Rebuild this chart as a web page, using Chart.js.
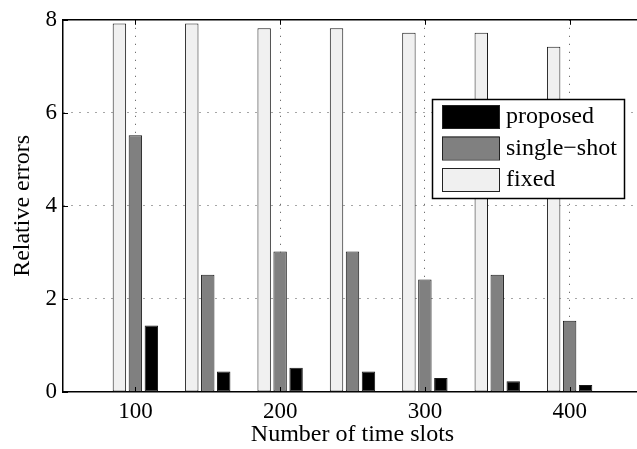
<!DOCTYPE html>
<html>
<head>
<meta charset="utf-8">
<script src="https://cdn.jsdelivr.net/npm/chart.js@4"></script>
<style>
  html, body { margin: 0; padding: 0; background: #fff; overflow: hidden; }
  #wrap { width: 637px; height: 449px; overflow: hidden; }
</style>
</head>
<body>
<div id="wrap"><canvas id="chart" width="645" height="449"></canvas></div>
<script>
// values
const slots = [100, 150, 200, 250, 300, 350, 400];
const fixedErr = [7.92, 7.92, 7.82, 7.82, 7.72, 7.72, 7.42];
const singleShotErr = [5.52, 2.52, 3.02, 3.02, 2.42, 2.52, 1.53];
const proposedErr = [1.43, 0.44, 0.52, 0.44, 0.3, 0.23, 0.15];
const xTicks = [100, 200, 300, 400];
const yTicks = [0, 2, 4, 6, 8];

const FONT = "'Liberation Serif', 'Times New Roman', serif";

function points(values) {
  return slots.map((s, i) => ({ x: s, y: values[i] }));
}

// legend entries, in the order shown in the box
const legendItems = [
  { label: "proposed", color: "#000000" },
  { label: "single\u2212shot", color: "#808080" },
  { label: "fixed", color: "#f0f0f0" },
];

// axis titles, top frame line, inward tick marks and the legend box
const decorations = {
  id: "decorations",
  afterDraw(chart) {
    const ctx = chart.ctx;
    const area = chart.chartArea;
    const xs = chart.scales.x;
    const ys = chart.scales.y;
    ctx.save();

    ctx.strokeStyle = "#000";
    ctx.lineWidth = 1.5;
    ctx.beginPath();
    ctx.moveTo(area.left, area.top);
    ctx.lineTo(area.right, area.top);
    ctx.stroke();

    ctx.lineWidth = 1;
    ctx.beginPath();
    xTicks.forEach((v) => {
      const px = Math.round(xs.getPixelForValue(v)) + 0.5;
      ctx.moveTo(px, area.bottom);
      ctx.lineTo(px, area.bottom - 5);
      ctx.moveTo(px, area.top);
      ctx.lineTo(px, area.top + 5);
    });
    yTicks.forEach((v) => {
      const py = Math.round(ys.getPixelForValue(v)) + 0.5;
      ctx.moveTo(area.left, py);
      ctx.lineTo(area.left + 5, py);
    });
    ctx.stroke();

    ctx.fillStyle = "#000";
    ctx.font = "24px " + FONT;
    ctx.textAlign = "center";
    ctx.textBaseline = "middle";
    ctx.fillText("Number of time slots", (area.left + area.right) / 2, 435);

    ctx.save();
    ctx.translate(23, (area.top + area.bottom) / 2);
    ctx.rotate(-Math.PI / 2);
    ctx.fillText("Relative errors", 0, 0);
    ctx.restore();

    // legend
    const lx = 432, ly = 99, lw = 192, lh = 99;
    ctx.fillStyle = "#fff";
    ctx.fillRect(lx, ly, lw, lh);
    ctx.strokeStyle = "#000";
    ctx.lineWidth = 1.5;
    ctx.strokeRect(lx + 0.5, ly + 0.5, lw, lh);
    ctx.textAlign = "left";
    legendItems.forEach((item, i) => {
      const sy = 105 + i * 31.5;
      ctx.fillStyle = item.color;
      ctx.fillRect(442, sy, 57, 23);
      ctx.strokeStyle = "#222";
      ctx.lineWidth = 1;
      ctx.strokeRect(442.5, sy + 0.5, 57, 23);
      ctx.fillStyle = "#000";
      ctx.fillText(item.label, 506, sy + 12);
    });

    ctx.restore();
  },
};

const barStyle = {
  borderColor: "#1a1a1a",
  borderWidth: 1,
  borderSkipped: false,
  categoryPercentage: 0.662,
  barPercentage: 0.84,
};

const gridColor = "rgba(0,0,0,0.7)";

new Chart(document.getElementById("chart"), {
  type: "bar",
  data: {
    datasets: [
      Object.assign({ label: "fixed", data: points(fixedErr), backgroundColor: "#f0f0f0" }, barStyle),
      Object.assign({ label: "single\u2212shot", data: points(singleShotErr), backgroundColor: "#808080" }, barStyle),
      Object.assign({ label: "proposed", data: points(proposedErr), backgroundColor: "#000000" }, barStyle),
    ],
  },
  options: {
    responsive: false,
    animation: false,
    devicePixelRatio: 1,
    layout: { padding: { left: 0, top: 15, right: 3, bottom: 0 } },
    plugins: { legend: { display: false }, tooltip: { enabled: false } },
    scales: {
      x: {
        type: "linear",
        min: 50,
        max: 450,
        offset: false,
        afterBuildTicks: (scale) => {
          scale.ticks = xTicks.map((v) => ({ value: v }));
        },
        afterFit: (scale) => { scale.height = 57; },
        grid: {
          offset: false,
          color: gridColor,
          lineWidth: 1,
          drawTicks: false,
        },
        border: { display: true, color: "#000", width: 1.5, dash: [1, 7] },
        ticks: {
          padding: 6,
          color: "#000",
          font: { family: FONT, size: 23 },
          maxRotation: 0,
        },
      },
      y: {
        min: 0,
        max: 8,
        afterBuildTicks: (scale) => {
          scale.ticks = yTicks.map((v) => ({ value: v }));
        },
        afterFit: (scale) => { scale.width = 63; },
        grid: {
          color: (c) => (c.tick && (c.tick.value === 0 || c.tick.value === 8) ? "rgba(0,0,0,0)" : gridColor),
          lineWidth: 1,
          drawTicks: false,
        },
        border: { display: true, color: "#000", width: 1.5, dash: [1, 7] },
        ticks: {
          padding: 6,
          color: "#000",
          font: { family: FONT, size: 23 },
        },
      },
    },
  },
  plugins: [decorations],
});
</script>
</body>
</html>
